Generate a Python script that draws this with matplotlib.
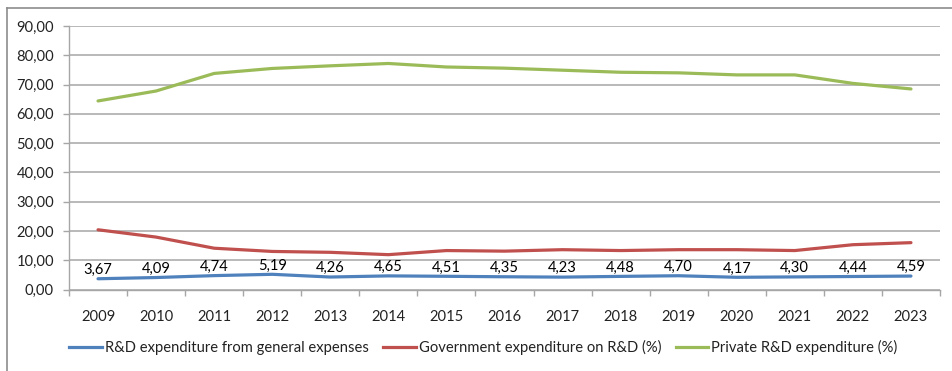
import matplotlib
matplotlib.use("Agg")
import matplotlib.pyplot as plt
import matplotlib.ticker as ticker
from matplotlib.lines import Line2D

plt.rcParams["font.family"] = ["Lato", "DejaVu Sans"]

years = ["2009", "2010", "2011", "2012", "2013", "2014", "2015", "2016",
         "2017", "2018", "2019", "2020", "2021", "2022", "2023"]
rd_general = [3.67, 4.09, 4.74, 5.19, 4.26, 4.65, 4.51, 4.35,
              4.23, 4.48, 4.70, 4.17, 4.30, 4.44, 4.59]
gov_rd = [20.4, 17.9, 14.1, 13.0, 12.7, 11.9, 13.3, 13.1,
          13.6, 13.3, 13.6, 13.6, 13.3, 15.3, 16.0]
private_rd = [64.4, 67.8, 73.8, 75.5, 76.4, 77.2, 76.0, 75.6,
              74.9, 74.2, 74.0, 73.3, 73.3, 70.4, 68.5]

labels = ["R&D expenditure from general expenses",
          "Government expenditure on R&D (%)",
          "Private R&D expenditure (%)"]
colors = ["#4f81bd", "#c0504d", "#9bbb59"]

fs = 10.6
W, H = 952, 371
fig = plt.figure(figsize=(W / 100, H / 100), dpi=100)
ax = fig.add_axes([69 / W, 1 - 289.5 / H, (940 - 69) / W, (289.5 - 26) / H])

x = list(range(len(years)))
for vals, c, lab in zip([rd_general, gov_rd, private_rd], colors, labels):
    ax.plot(x, vals, color=c, lw=2.3, solid_capstyle="round", label=lab, zorder=3)

for xi, v in zip(x, rd_general):
    ax.annotate(f"{v:.2f}".replace(".", ","), (xi, v), xytext=(0, 6.3),
                textcoords="offset points", ha="center", va="center",
                fontsize=fs, color="#000000", zorder=4)

ax.set_xlim(-0.5, len(years) - 0.5)
ax.set_ylim(0, 90)
ax.yaxis.set_major_locator(ticker.MultipleLocator(10))
ax.yaxis.set_major_formatter(ticker.FuncFormatter(lambda v, p: f"{v:.2f}".replace(".", ",")))
ax.set_xticks(x)
ax.set_xticklabels(years)
ax.set_xticks([i - 0.5 for i in range(len(years) + 1)], minor=True)
ax.tick_params(axis="x", which="major", length=0, pad=14.5, labelsize=fs, colors="#222222")
ax.tick_params(axis="x", which="minor", length=4.3, width=1.0, color="#a6a6a6")
ax.tick_params(axis="y", length=4.3, width=1.0, color="#a6a6a6", pad=6.5,
               labelsize=fs, labelcolor="#222222")

ax.grid(axis="y", color="#b3b3b3", lw=1.3, zorder=0)
for s in ["top", "right"]:
    ax.spines[s].set_visible(False)
for s in ["left", "bottom"]:
    ax.spines[s].set_color("#a6a6a6")
    ax.spines[s].set_linewidth(1.0)
ax.set_axisbelow(True)

handles = [Line2D([0], [0], color=c, lw=2.3) for c in colors]
fig.legend(handles, labels, loc="center", bbox_to_anchor=(483.5 / W, 1 - 347.5 / H),
           ncol=3, frameon=False, fontsize=fs, handlelength=2.2, handletextpad=0.2,
           columnspacing=1.0, labelcolor="#222222")

# chart frame (left and top edges)
fig.add_artist(Line2D([6.5 / W, 6.5 / W], [0, 1 - 7.5 / H], color="#8c8c8c", lw=1.2))
fig.add_artist(Line2D([6.5 / W, 1], [1 - 7.5 / H, 1 - 7.5 / H], color="#8c8c8c", lw=1.2))

fig.savefig("out.png", dpi=100)
